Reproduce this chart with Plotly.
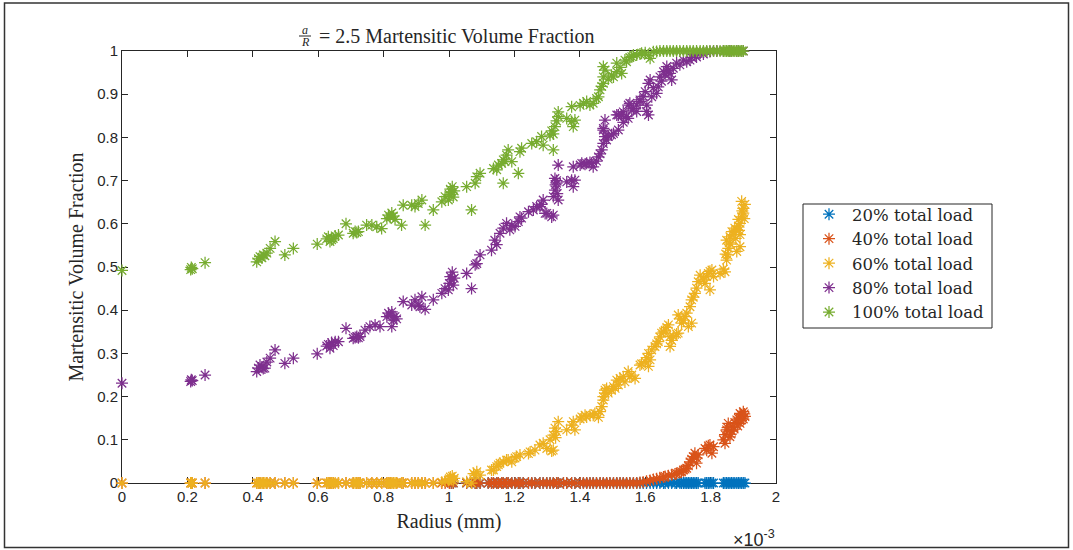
import plotly.graph_objects as go

# Radius values are in units of 1e-3 (the axis carries a x10^-3 multiplier).

# 20% total load
blue_r = [1.007, 1.013, 1.054, 1.069, 1.080, 1.085, 1.095, 1.120, 1.130, 1.136,
          1.146, 1.151, 1.161, 1.166, 1.176, 1.181, 1.192, 1.202, 1.212, 1.217,
          1.227, 1.243, 1.253, 1.263, 1.278, 1.288, 1.299, 1.309, 1.319, 1.329,
          1.334, 1.350, 1.360, 1.375, 1.385, 1.401, 1.411, 1.421, 1.431, 1.441,
          1.451, 1.462, 1.472, 1.482, 1.492, 1.503, 1.513, 1.523, 1.533, 1.543,
          1.553, 1.564, 1.574, 1.584, 1.594, 1.604, 1.615, 1.625, 1.635, 1.645,
          1.656, 1.661, 1.671, 1.681, 1.691, 1.696, 1.706, 1.711, 1.717, 1.722,
          1.727, 1.732, 1.737, 1.742, 1.747, 1.752, 1.757, 1.762, 1.783, 1.788,
          1.793, 1.798, 1.804, 1.809, 1.839, 1.844, 1.849, 1.854, 1.859, 1.864,
          1.869, 1.874, 1.880, 1.885, 1.890, 1.895, 1.900, 1.905]
blue_v = [0, 0, 0, 0, 0, 0, 0, 0, 0, 0,
          0, 0, 0, 0, 0, 0, 0, 0, 0, 0,
          0, 0, 0, 0, 0, 0, 0, 0, 0, 0,
          0, 0, 0, 0, 0, 0, 0, 0, 0, 0,
          0, 0, 0, 0, 0, 0, 0, 0, 0, 0,
          0, 0, 0, 0, 0, 0, 0, 0, 0, 0,
          0, 0, 0, 0, 0, 0, 0, 0, 0, 0,
          0, 0, 0, 0, 0, 0, 0, 0, 0, 0,
          0, 0, 0, 0, 0, 0, 0, 0, 0, 0,
          0, 0, 0, 0, 0, 0, 0, 0]

# 40% total load
orange_r = [0.000, 0.210, 0.215, 0.254, 0.412, 0.422, 0.432, 0.443, 0.453, 0.468,
            0.498, 0.524, 0.597, 0.626, 0.636, 0.646, 0.662, 0.685, 0.707, 0.718,
            0.728, 0.748, 0.764, 0.779, 0.794, 0.810, 0.820, 0.830, 0.840, 0.855,
            0.860, 0.886, 0.896, 0.906, 0.917, 0.927, 0.952, 0.978, 0.988, 1.001,
            1.007, 1.013, 1.054, 1.069, 1.080, 1.085, 1.095, 1.120, 1.130, 1.136,
            1.146, 1.151, 1.161, 1.166, 1.176, 1.181, 1.192, 1.202, 1.212, 1.217,
            1.227, 1.243, 1.253, 1.263, 1.278, 1.288, 1.299, 1.309, 1.319, 1.329,
            1.334, 1.350, 1.360, 1.375, 1.385, 1.401, 1.411, 1.421, 1.431, 1.441,
            1.451, 1.462, 1.472, 1.482, 1.492, 1.503, 1.513, 1.523, 1.533, 1.543,
            1.553, 1.564, 1.574, 1.584, 1.594,
            1.604, 1.615, 1.625, 1.635, 1.645, 1.656, 1.661, 1.671, 1.681, 1.691, 1.696, 1.706,
            1.711, 1.717, 1.722, 1.727, 1.732, 1.737, 1.742, 1.747, 1.752, 1.757, 1.762, 1.757,
            1.783, 1.788, 1.793, 1.798, 1.804, 1.809,
            1.839, 1.844, 1.849, 1.854, 1.859, 1.864, 1.869, 1.874,
            1.880, 1.885, 1.890, 1.890, 1.895, 1.900, 1.905, 1.900,
            1.844, 1.852, 1.862, 1.872, 1.883, 1.893, 1.903]
orange_v = [0, 0, 0, 0, 0, 0, 0, 0, 0, 0,
            0, 0, 0, 0, 0, 0, 0, 0, 0, 0,
            0, 0, 0, 0, 0, 0, 0, 0, 0, 0,
            0, 0, 0, 0, 0, 0, 0, 0, 0, 0,
            0, 0, 0, 0, 0, 0, 0, 0, 0, 0,
            0, 0, 0, 0, 0, 0, 0, 0, 0, 0,
            0, 0, 0, 0, 0, 0, 0, 0, 0, 0,
            0, 0, 0, 0, 0, 0, 0, 0, 0, 0,
            0, 0, 0, 0, 0, 0, 0, 0, 0, 0,
            0, 0, 0, 0.001, 0.002,
            0.004, 0.006, 0.008, 0.010, 0.012, 0.014, 0.015, 0.017, 0.019, 0.021, 0.022, 0.025,
            0.026, 0.030, 0.032, 0.034, 0.040, 0.049, 0.055, 0.061, 0.069, 0.046, 0.065, 0.058,
            0.080, 0.076, 0.086, 0.088, 0.069, 0.084,
            0.100, 0.112, 0.123, 0.138, 0.107, 0.120, 0.130, 0.140,
            0.146, 0.150, 0.161, 0.138, 0.158, 0.165, 0.154, 0.148,
            0.092, 0.128, 0.113, 0.125, 0.132, 0.145, 0.160]

# 60% total load
yellow_r = [0.000, 0.210, 0.212, 0.215, 0.254,
            0.412, 0.417, 0.422, 0.428, 0.432, 0.437, 0.443, 0.453, 0.468,
            0.498, 0.524, 0.597, 0.626, 0.631, 0.636, 0.641, 0.646, 0.652, 0.662,
            0.685, 0.707, 0.713, 0.718, 0.723, 0.728, 0.748, 0.764, 0.779, 0.794,
            0.810, 0.815, 0.820, 0.825, 0.830, 0.835, 0.840, 0.855, 0.860,
            0.886, 0.896, 0.906, 0.917, 0.927, 0.952, 0.978, 0.988,
            0.998, 1.001, 1.004, 1.007, 1.010, 1.013, 1.016,
            1.054, 1.069, 1.075, 1.080, 1.085, 1.095,
            1.130, 1.136, 1.146, 1.151, 1.156, 1.166, 1.176, 1.181, 1.192, 1.202, 1.207, 1.217,
            1.243, 1.248, 1.263, 1.278, 1.288, 1.299, 1.314, 1.319,
            1.309, 1.319, 1.324, 1.329, 1.334, 1.326,
            1.360, 1.375, 1.380, 1.385,
            1.401, 1.406, 1.416, 1.421, 1.431, 1.441, 1.446, 1.457,
            1.462, 1.467, 1.472, 1.472, 1.477, 1.477, 1.482, 1.487,
            1.497, 1.503, 1.508, 1.513, 1.518, 1.523, 1.533, 1.538, 1.548, 1.553, 1.559, 1.569,
            1.584, 1.589, 1.600, 1.605, 1.610, 1.610, 1.615, 1.620,
            1.630, 1.635, 1.640, 1.645, 1.650, 1.656, 1.661, 1.666, 1.671, 1.676, 1.676, 1.681, 1.686, 1.696, 1.701,
            1.701, 1.706, 1.711, 1.717, 1.722, 1.727, 1.732, 1.737, 1.742, 1.742, 1.747, 1.752, 1.757, 1.762, 1.768,
            1.778, 1.783, 1.788, 1.793, 1.798, 1.798, 1.804, 1.809,
            1.829, 1.839, 1.844, 1.849, 1.849, 1.854, 1.859, 1.865, 1.869,
            1.874, 1.880, 1.880, 1.885, 1.890, 1.890, 1.895, 1.895, 1.900, 1.900, 1.905, 1.890, 1.885,
            1.846, 1.852, 1.857, 1.862, 1.877, 1.887, 1.897, 1.903]
yellow_v = [0, 0, 0, 0, 0,
            0, 0, 0, 0, 0, 0, 0, 0, 0,
            0, 0, 0, 0, 0, 0, 0, 0, 0, 0,
            0, 0, 0, 0, 0, 0, 0, 0, 0, 0,
            0, 0, 0, 0, 0, 0, 0, 0, 0,
            0, 0, 0, 0, 0, 0, 0.002, 0.004,
            0.006, 0.010, 0.014, 0.008, 0.016, 0.005, 0.011,
            0.003, 0.000, 0.022, 0.018, 0.026, 0.018,
            0.030, 0.030, 0.038, 0.042, 0.046, 0.049, 0.053, 0.053, 0.049, 0.058, 0.061, 0.065,
            0.068, 0.072, 0.076, 0.088, 0.092, 0.080, 0.074, 0.076,
            0.100, 0.111, 0.127, 0.119, 0.142, 0.105,
            0.123, 0.134, 0.142, 0.123,
            0.148, 0.153, 0.157, 0.153, 0.157, 0.157, 0.161, 0.152,
            0.165, 0.177, 0.192, 0.200, 0.208, 0.215, 0.219, 0.208,
            0.215, 0.223, 0.219, 0.238, 0.227, 0.242, 0.246, 0.234, 0.258, 0.246, 0.250, 0.242,
            0.273, 0.276, 0.281, 0.290, 0.270, 0.300, 0.285, 0.308,
            0.316, 0.322, 0.327, 0.338, 0.347, 0.350, 0.354, 0.360, 0.366, 0.339, 0.316, 0.330, 0.339, 0.345, 0.347,
            0.389, 0.380, 0.370, 0.377, 0.385, 0.393, 0.362, 0.408, 0.370, 0.424, 0.430, 0.439, 0.451, 0.466, 0.481,
            0.470, 0.462, 0.478, 0.485, 0.447, 0.490, 0.493, 0.478,
            0.485, 0.495, 0.489, 0.516, 0.562, 0.543, 0.570, 0.582, 0.575,
            0.590, 0.586, 0.536, 0.595, 0.601, 0.547, 0.616, 0.652, 0.636, 0.625, 0.645, 0.575, 0.610,
            0.530, 0.528, 0.556, 0.553, 0.566, 0.585, 0.630, 0.612]

# 80% total load
purple_r = [0.000,
            0.210, 0.212, 0.215,
            0.254,
            0.412, 0.417, 0.422, 0.428, 0.432, 0.437, 0.443, 0.453, 0.468,
            0.498, 0.524, 0.597,
            0.626, 0.631, 0.636, 0.641, 0.646, 0.652, 0.662,
            0.685,
            0.707, 0.713, 0.718, 0.723, 0.728,
            0.743, 0.758, 0.774, 0.789,
            0.810, 0.815, 0.820, 0.825, 0.830, 0.835, 0.840, 0.825,
            0.860, 0.886, 0.896, 0.906, 0.911, 0.917, 0.927,
            0.952, 0.978, 0.988,
            0.998, 1.001, 1.004, 1.007, 1.010, 1.013, 1.016,
            1.054, 1.069, 1.080, 1.085, 1.095,
            1.130, 1.140, 1.146, 1.156, 1.166, 1.176, 1.186, 1.192, 1.202, 1.212, 1.217, 1.222,
            1.243, 1.258, 1.268, 1.278, 1.283, 1.288, 1.294, 1.299, 1.314, 1.319,
            1.319, 1.324, 1.326, 1.329, 1.324, 1.331, 1.334, 1.329, 1.334,
            1.360, 1.375, 1.380, 1.385, 1.380,
            1.401, 1.406, 1.416, 1.421, 1.431, 1.436, 1.441, 1.451,
            1.457, 1.462, 1.467, 1.472, 1.472, 1.477, 1.477, 1.482, 1.472,
            1.487, 1.497, 1.503, 1.513, 1.518, 1.518, 1.528, 1.533, 1.533, 1.543,
            1.548, 1.548, 1.553, 1.559, 1.564, 1.574, 1.574, 1.584, 1.584,
            1.594, 1.600, 1.604, 1.610, 1.610, 1.605, 1.615, 1.620, 1.625, 1.635, 1.640, 1.645, 1.650, 1.656, 1.661,
            1.666, 1.671, 1.676, 1.681, 1.686, 1.696, 1.706, 1.717, 1.727, 1.737, 1.742, 1.752, 1.757, 1.768,
            1.778, 1.788, 1.798, 1.809,
            1.819, 1.839, 1.859, 1.880, 1.900]
purple_v = [0.231,
            0.235, 0.239, 0.237,
            0.250,
            0.258, 0.266, 0.273, 0.268, 0.265, 0.266, 0.280, 0.289, 0.308,
            0.277, 0.289, 0.299,
            0.317, 0.321, 0.312, 0.325, 0.318, 0.327, 0.327,
            0.358,
            0.335, 0.337, 0.339, 0.336, 0.339,
            0.354, 0.362, 0.366, 0.362,
            0.385, 0.393, 0.388, 0.396, 0.377, 0.385, 0.380, 0.362,
            0.420, 0.412, 0.424, 0.412, 0.408, 0.431, 0.402,
            0.424, 0.439, 0.450,
            0.447, 0.462, 0.478, 0.470, 0.488, 0.458, 0.474,
            0.485, 0.450, 0.505, 0.508, 0.528,
            0.539, 0.562, 0.552, 0.578, 0.590, 0.601, 0.586, 0.596, 0.594, 0.605, 0.616, 0.613,
            0.628, 0.632, 0.640, 0.640, 0.645, 0.655, 0.624, 0.624, 0.616, 0.620,
            0.663, 0.678, 0.690, 0.694, 0.705, 0.670, 0.655, 0.700, 0.736,
            0.697, 0.701, 0.686, 0.701, 0.732,
            0.736, 0.740, 0.738, 0.740, 0.742, 0.740, 0.732, 0.745,
            0.755, 0.762, 0.771, 0.786, 0.817, 0.802, 0.840, 0.794, 0.821,
            0.802, 0.806, 0.809, 0.852, 0.817, 0.852, 0.852, 0.835, 0.859, 0.848,
            0.844, 0.875, 0.879, 0.863, 0.867, 0.875, 0.860, 0.883, 0.887,
            0.895, 0.906, 0.860, 0.925, 0.852, 0.875, 0.933, 0.894, 0.915, 0.902, 0.917, 0.940, 0.930, 0.952, 0.945,
            0.964, 0.955, 0.948, 0.933, 0.960, 0.972, 0.968, 0.979, 0.975, 0.979, 0.985, 0.991, 0.986, 0.995,
            0.993, 0.998, 0.999, 1.000,
            1.000, 1.000, 1.000, 1.000, 1.000]

# 100% total load
green_r = [0.000,
           0.210, 0.212, 0.215,
           0.254,
           0.412, 0.417, 0.422, 0.428, 0.432, 0.437, 0.443, 0.453, 0.468,
           0.498, 0.524, 0.597,
           0.626, 0.631, 0.636, 0.641, 0.646, 0.652, 0.662,
           0.685,
           0.707, 0.713, 0.718, 0.723,
           0.748, 0.764, 0.779, 0.794,
           0.810, 0.815, 0.820, 0.825, 0.830, 0.835,
           0.855, 0.860, 0.886, 0.896, 0.906, 0.917, 0.927,
           0.952, 0.978, 0.988,
           0.998, 1.001, 1.004, 1.007, 1.010, 1.013, 1.016,
           1.054, 1.069, 1.080, 1.085, 1.095,
           1.136, 1.146, 1.151, 1.161, 1.166, 1.171, 1.176, 1.181, 1.192, 1.166,
           1.212, 1.217, 1.222, 1.253, 1.268, 1.283, 1.288,
           1.309, 1.314, 1.319, 1.324, 1.329, 1.334, 1.334, 1.319,
           1.360, 1.375, 1.380, 1.385, 1.375,
           1.401, 1.411, 1.421, 1.431, 1.441, 1.451,
           1.457, 1.462, 1.467, 1.472, 1.472, 1.477, 1.472,
           1.487, 1.497, 1.503, 1.513, 1.513, 1.523, 1.528, 1.538, 1.543,
           1.553, 1.559, 1.564, 1.574, 1.584, 1.589, 1.600, 1.610, 1.615, 1.625,
           1.635, 1.645, 1.656, 1.666, 1.676, 1.686, 1.696, 1.706, 1.717, 1.727, 1.737,
           1.747, 1.757, 1.768, 1.778, 1.788, 1.798, 1.809, 1.819, 1.829, 1.839, 1.844,
           1.849, 1.854, 1.859, 1.864, 1.869, 1.874, 1.880, 1.885, 1.890, 1.895, 1.900]
green_v = [0.492,
           0.494, 0.499, 0.496,
           0.510,
           0.512, 0.519, 0.524, 0.521, 0.528, 0.526, 0.532, 0.543, 0.559,
           0.528, 0.543, 0.553,
           0.565, 0.570, 0.559, 0.563, 0.566, 0.572, 0.574,
           0.600,
           0.578, 0.582, 0.580, 0.582,
           0.597, 0.597, 0.593, 0.589,
           0.612, 0.620, 0.615, 0.625, 0.618, 0.610,
           0.597, 0.643, 0.643, 0.640, 0.647, 0.655, 0.597,
           0.632, 0.651, 0.663,
           0.655, 0.668, 0.680, 0.673, 0.686, 0.662, 0.676,
           0.686, 0.632, 0.694, 0.709, 0.717,
           0.728, 0.725, 0.736, 0.740, 0.748, 0.744, 0.759, 0.771, 0.744, 0.694,
           0.717, 0.767, 0.775, 0.786, 0.790, 0.802, 0.782,
           0.805, 0.815, 0.808, 0.825, 0.838, 0.848, 0.859, 0.771,
           0.844, 0.837, 0.825, 0.840, 0.871,
           0.874, 0.879, 0.883, 0.875, 0.879, 0.890,
           0.894, 0.910, 0.918, 0.925, 0.940, 0.956, 0.964,
           0.935, 0.944, 0.940, 0.952, 0.972, 0.962, 0.948, 0.979, 0.975,
           0.985, 0.987, 0.991, 0.991, 0.993, 0.995, 0.996, 0.990, 0.983, 0.998,
           0.999, 1.000, 1.000, 1.000, 1.000, 1.000, 1.000, 1.000, 1.000, 1.000, 1.000,
           1.000, 1.000, 1.000, 1.000, 1.000, 1.000, 1.000, 1.000, 1.000, 1.000, 1.000,
           1.000, 1.000, 1.000, 1.000, 1.000, 1.000, 1.000, 1.000, 1.000, 1.000, 1.000]

series_names = ["20% total load", "40% total load", "60% total load",
                "80% total load", "100% total load"]
series_colors = ["#0072BD", "#D95319", "#EDB120", "#7E2F8E", "#77AC30"]
series_r = [blue_r, orange_r, yellow_r, purple_r, green_r]
series_v = [blue_v, orange_v, yellow_v, purple_v, green_v]

x_ticks = [0, 0.2, 0.4, 0.6, 0.8, 1.0, 1.2, 1.4, 1.6, 1.8, 2.0]
x_tick_labels = ["0", "0.2", "0.4", "0.6", "0.8", "1", "1.2", "1.4", "1.6", "1.8", "2"]
y_ticks = [0, 0.1, 0.2, 0.3, 0.4, 0.5, 0.6, 0.7, 0.8, 0.9, 1.0]
y_tick_labels = ["0", "0.1", "0.2", "0.3", "0.4", "0.5", "0.6", "0.7", "0.8", "0.9", "1"]

# figure geometry (pixels)
W, H = 1073, 550
ML, MR, MT, MB = 122, 297, 51, 67
PW, PH = W - ML - MR, H - MT - MB


def px_x(px):
    return (px - ML) / PW


def px_y(py):
    return (H - MB - py) / PH


SERIF = "Liberation Serif, Times New Roman, serif"
LEGEND_SERIF = "DejaVu Serif, serif"
SANS = "Liberation Sans, Arial, Helvetica, sans-serif"
INK = "#262626"

fig = go.Figure()
for name, r, v, c in zip(series_names, series_r, series_v, series_colors):
    fig.add_trace(go.Scatter(
        x=r, y=v, mode="markers", name=name, cliponaxis=False,
        marker=dict(symbol="asterisk-open", size=10, color=c,
                    line=dict(width=1.25, color=c)),
    ))

axis_style = dict(
    showline=True, linecolor=INK, linewidth=1, mirror="ticks",
    ticks="inside", ticklen=6, tickwidth=1, tickcolor=INK,
    showgrid=False, zeroline=False, layer="below traces",
    tickfont=dict(family=SANS, size=15, color=INK),
)

fig.update_layout(
    width=W, height=H,
    margin=dict(l=ML, r=MR, t=MT, b=MB, autoexpand=False),
    paper_bgcolor="white", plot_bgcolor="white",
    xaxis=dict(range=[0, 2], tickmode="array", tickvals=x_ticks,
               ticktext=x_tick_labels,
               title=dict(text="Radius (mm)", font=dict(family=SERIF, size=20, color=INK),
                          standoff=9),
               **axis_style),
    yaxis=dict(range=[0, 1], tickmode="array", tickvals=y_ticks,
               ticktext=y_tick_labels,
               title=dict(text="Martensitic Volume Fraction",
                          font=dict(family=SERIF, size=20, color=INK), standoff=8),
               **axis_style),
    showlegend=True,
    legend=dict(x=px_x(806), y=px_y(197), xanchor="left", yanchor="top",
                bgcolor="rgba(0,0,0,0)", borderwidth=0, itemwidth=36,
                tracegroupgap=0,
                font=dict(family=LEGEND_SERIF, size=16.5, color=INK)),
    shapes=[
        # legend frame
        dict(type="rect", xref="paper", yref="paper",
             x0=px_x(803), x1=px_x(992), y0=px_y(328), y1=px_y(204),
             line=dict(color=INK, width=1), fillcolor="rgba(0,0,0,0)"),
        # outer figure frame
        dict(type="rect", xref="paper", yref="paper",
             x0=px_x(4.5), x1=px_x(1068.5), y0=px_y(547.5), y1=px_y(3),
             line=dict(color="#333333", width=1.5), fillcolor="rgba(0,0,0,0)"),
        # fraction bar of a/R in the title
        dict(type="line", xref="paper", yref="paper",
             x0=px_x(299), x1=px_x(311), y0=px_y(36), y1=px_y(36),
             line=dict(color=INK, width=1)),
    ],
    annotations=[
        dict(text="<i>a</i>", xref="paper", yref="paper", x=px_x(305), y=px_y(30),
             xanchor="center", yanchor="middle", showarrow=False,
             font=dict(family=SERIF, size=12, color=INK)),
        dict(text="<i>R</i>", xref="paper", yref="paper", x=px_x(305), y=px_y(42),
             xanchor="center", yanchor="middle", showarrow=False,
             font=dict(family=SERIF, size=12, color=INK)),
        dict(text="= 2.5 Martensitic Volume Fraction", xref="paper", yref="paper",
             x=px_x(317), y=px_y(36), xanchor="left", yanchor="middle", showarrow=False,
             font=dict(family=SERIF, size=20, color=INK)),
        dict(text="×10<sup>-3</sup>", xref="paper", yref="paper",
             x=px_x(731), y=px_y(538), xanchor="left", yanchor="middle", showarrow=False,
             font=dict(family=SANS, size=18, color=INK)),
    ],
)

fig.write_html("out.html")
